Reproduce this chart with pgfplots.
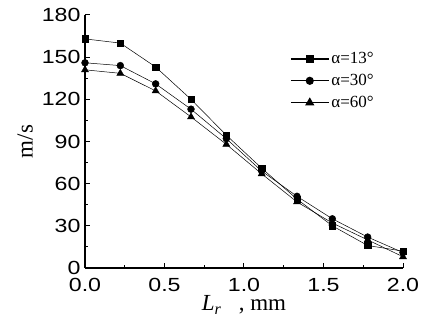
\documentclass[border=0pt]{standalone}
\usepackage{fontspec}
\setmainfont{Liberation Serif}
\setsansfont{Liberation Sans}[FakeStretch=1.22]
\usepackage{pgfplots}
\pgfplotsset{compat=1.18}

\begin{document}
\begin{tikzpicture}
\begin{axis}[
    scale only axis,
    width=318pt, height=253pt,
    xmin=0, xmax=2, ymin=0, ymax=180,
    axis x line=bottom, axis y line=left,
    axis line style={-, line width=1.1pt},
    xtick={0,0.5,1,1.5,2},
    ytick={0,30,60,90,120,150,180},
    minor x tick num=1, minor y tick num=1,
    tick align=inside,
    major tick length=5pt, minor tick length=3pt,
    tick style={line width=1pt, black},
    xticklabel style={/pgf/number format/fixed, /pgf/number format/fixed zerofill,
        /pgf/number format/precision=1, yshift=-7pt},
    yticklabel style={xshift=-1pt},
    /pgf/number format/assume math mode=true,
    tick label style={font=\sffamily\fontsize{19}{19}\selectfont},
    xlabel={\textit{L}\textsubscript{\textit{r}}\enspace\ , mm},
    ylabel={m/s},
    label style={font=\fontsize{23}{23}\selectfont},
    xlabel style={yshift=3pt},
    ylabel style={yshift=2pt},
    legend style={draw=none, fill=none, at={(0.635,0.868)}, anchor=north west,
        font=\fontsize{17}{17}\selectfont, row sep=5pt,
        /tikz/every even column/.append style={column sep=2pt}},
    legend cell align=left,
    legend image code/.code={
        \draw[#1, line width=1.3pt, mark repeat=2, mark phase=2]
        plot coordinates {(0pt,0pt) (19pt,0pt) (38pt,0pt)};},
]
\addplot[black, line width=0.5pt, mark=square*, mark size=3.2pt, mark options={solid, fill=black}] coordinates {
(0,163) (0.2222,160) (0.4444,143) (0.6667,120) (0.8889,94.5)
(1.1111,71) (1.3333,49) (1.5556,30) (1.7778,16) (2,12)};
\addlegendentry{α=13°}
\addplot[black, line width=0.5pt, mark=*, mark size=3.4pt, mark options={solid, fill=black}] coordinates {
(0,146) (0.2222,144) (0.4444,131) (0.6667,113) (0.8889,92)
(1.1111,69) (1.3333,51) (1.5556,35) (1.7778,22) (2,11)};
\addlegendentry{α=30°}
\addplot[black, line width=0.5pt, mark=triangle*, mark size=4pt, mark options={solid, fill=black}] coordinates {
(0,141) (0.2222,138.5) (0.4444,126) (0.6667,107.5) (0.8889,88)
(1.1111,67) (1.3333,47) (1.5556,32) (1.7778,20) (2,8)};
\addlegendentry{α=60°}
\coordinate (O) at (rel axis cs:0,0);
\end{axis}
\path[shift={(O)}] (-85pt,-58pt) rectangle (341pt,268pt);
\end{tikzpicture}
\end{document}
